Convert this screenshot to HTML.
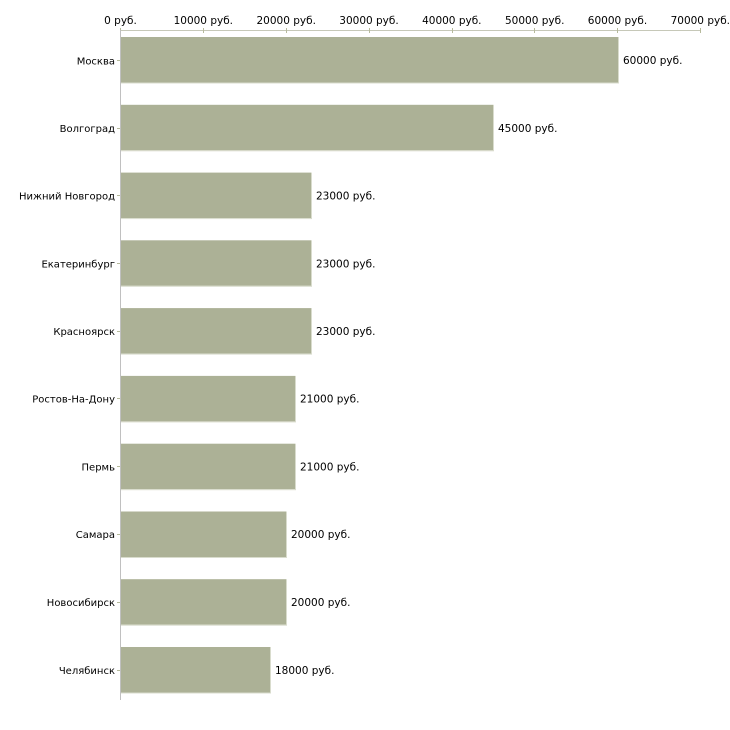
<!DOCTYPE html>
<html><head><meta charset="utf-8"><style>
html,body{margin:0;padding:0;background:#fff;}
svg{display:block;}
text{font-family:"DejaVu Sans","Liberation Sans",sans-serif;fill:#000;}
</style></head><body>
<svg width="730" height="730" viewBox="0 0 730 730" xmlns="http://www.w3.org/2000/svg">
<rect width="730" height="730" fill="#fff"/>
<!-- top axis -->
<line x1="120" y1="30.5" x2="701" y2="30.5" stroke="#c6c8b8" stroke-width="1"/>
<g stroke="#b6ba9c" stroke-width="1">
<line x1="120.5" y1="28" x2="120.5" y2="33"/>
<line x1="203.5" y1="28" x2="203.5" y2="33"/>
<line x1="286.5" y1="28" x2="286.5" y2="33"/>
<line x1="369.5" y1="28" x2="369.5" y2="33"/>
<line x1="452.5" y1="28" x2="452.5" y2="33"/>
<line x1="534.5" y1="28" x2="534.5" y2="33"/>
<line x1="617.5" y1="28" x2="617.5" y2="33"/>
<line x1="700.5" y1="28" x2="700.5" y2="33"/>
</g>
<g font-size="10.5" text-anchor="middle">
<text x="120.5" y="24">0 руб.</text>
<text x="203.3" y="24">10000 руб.</text>
<text x="286.2" y="24">20000 руб.</text>
<text x="369" y="24">30000 руб.</text>
<text x="451.8" y="24">40000 руб.</text>
<text x="534.7" y="24">50000 руб.</text>
<text x="617.5" y="24">60000 руб.</text>
<text x="700.3" y="24">70000 руб.</text>
</g>
<!-- bars -->
<g fill="#acb196">
<rect x="121" y="37" width="497" height="45.5"/>
<rect x="121" y="104.8" width="372" height="45.5"/>
<rect x="121" y="172.6" width="190" height="45.5"/>
<rect x="121" y="240.3" width="190" height="45.5"/>
<rect x="121" y="308.1" width="190" height="45.5"/>
<rect x="121" y="375.9" width="174" height="45.5"/>
<rect x="121" y="443.7" width="174" height="45.5"/>
<rect x="121" y="511.5" width="165" height="45.5"/>
<rect x="121" y="579.2" width="165" height="45.5"/>
<rect x="121" y="647" width="149" height="45.5"/>
</g>
<g fill="#d9dccd">
<rect x="618" y="37" width="1" height="46.5"/><rect x="121" y="82.5" width="497" height="1"/>
<rect x="493" y="104.8" width="1" height="46.5"/><rect x="121" y="150.3" width="372" height="1"/>
<rect x="311" y="172.6" width="1" height="46.5"/><rect x="121" y="218.1" width="190" height="1"/>
<rect x="311" y="240.3" width="1" height="46.5"/><rect x="121" y="285.8" width="190" height="1"/>
<rect x="311" y="308.1" width="1" height="46.5"/><rect x="121" y="353.6" width="190" height="1"/>
<rect x="295" y="375.9" width="1" height="46.5"/><rect x="121" y="421.4" width="174" height="1"/>
<rect x="295" y="443.7" width="1" height="46.5"/><rect x="121" y="489.2" width="174" height="1"/>
<rect x="286" y="511.5" width="1" height="46.5"/><rect x="121" y="557" width="165" height="1"/>
<rect x="286" y="579.2" width="1" height="46.5"/><rect x="121" y="624.7" width="165" height="1"/>
<rect x="270" y="647" width="1" height="46.5"/><rect x="121" y="692.5" width="149" height="1"/>
</g>
<!-- vertical axis -->
<line x1="120.5" y1="30" x2="120.5" y2="700" stroke="#c0c0c0" stroke-width="1"/>
<g stroke="#b6ba9c" stroke-width="1">
<line x1="117" y1="60.5" x2="120" y2="60.5"/>
<line x1="117" y1="128.5" x2="120" y2="128.5"/>
<line x1="117" y1="195.5" x2="120" y2="195.5"/>
<line x1="117" y1="263.5" x2="120" y2="263.5"/>
<line x1="117" y1="331.5" x2="120" y2="331.5"/>
<line x1="117" y1="398.5" x2="120" y2="398.5"/>
<line x1="117" y1="466.5" x2="120" y2="466.5"/>
<line x1="117" y1="534.5" x2="120" y2="534.5"/>
<line x1="117" y1="602.5" x2="120" y2="602.5"/>
<line x1="117" y1="670.5" x2="120" y2="670.5"/>
</g>
<g font-size="10" text-anchor="end">
<text x="115" y="64.5">Москва</text>
<text x="115" y="132">Волгоград</text>
<text x="115" y="199.5">Нижний Новгород</text>
<text x="115" y="267.5">Екатеринбург</text>
<text x="115" y="335">Красноярск</text>
<text x="115" y="402.5">Ростов-На-Дону</text>
<text x="115" y="470.5">Пермь</text>
<text x="115" y="538">Самара</text>
<text x="115" y="606">Новосибирск</text>
<text x="115" y="674">Челябинск</text>
</g>
<g font-size="10.5">
<text x="623" y="64">60000 руб.</text>
<text x="498" y="132">45000 руб.</text>
<text x="316" y="199.5">23000 руб.</text>
<text x="316" y="267.5">23000 руб.</text>
<text x="316" y="335">23000 руб.</text>
<text x="300" y="402.5">21000 руб.</text>
<text x="300" y="470.5">21000 руб.</text>
<text x="291" y="538">20000 руб.</text>
<text x="291" y="606">20000 руб.</text>
<text x="275" y="674">18000 руб.</text>
</g>
</svg>
</body></html>
